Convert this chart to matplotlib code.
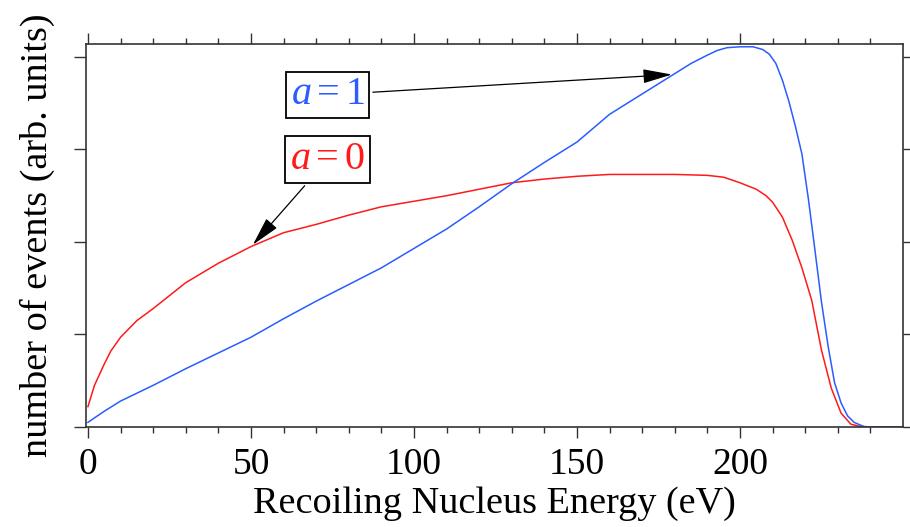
import matplotlib
matplotlib.use('Agg')
import matplotlib.pyplot as plt
import numpy as np

# energies (eV) and event counts
x_red = [0, 2, 5, 7, 10, 15, 20, 25, 30, 40, 50, 60, 70, 80, 90, 100, 110, 120, 130,
         140, 150, 160, 170, 180, 190, 195, 200, 205, 208, 210, 213, 216, 219, 222, 225,
         228, 231, 234, 237, 240, 250]
y_red = [0.22, 0.45, 0.68, 0.82, 0.97, 1.15, 1.28, 1.42, 1.56, 1.77, 1.95, 2.10, 2.19,
         2.29, 2.38, 2.44, 2.50, 2.57, 2.64, 2.68, 2.71, 2.73, 2.73, 2.73, 2.72, 2.70,
         2.64, 2.57, 2.50, 2.43, 2.27, 2.02, 1.72, 1.37, 0.83, 0.42, 0.15, 0.03, 0.005,
         0, 0]

x_blue = [0, 5, 10, 20, 30, 40, 50, 60, 70, 80, 90, 100, 110, 120, 130, 140, 150, 160,
          170, 180, 185, 190, 193, 196, 200, 204, 207, 209, 211, 213, 215, 217, 219,
          221, 223, 225, 227, 229, 231, 233, 235, 238, 240, 250]
y_blue = [0.05, 0.17, 0.28, 0.45, 0.63, 0.80, 0.97, 1.17, 1.36, 1.54, 1.72, 1.93, 2.14,
          2.38, 2.63, 2.86, 3.08, 3.38, 3.60, 3.82, 3.93, 4.02, 4.07, 4.10, 4.11, 4.11,
          4.08, 4.03, 3.93, 3.75, 3.52, 3.25, 2.95, 2.46, 1.91, 1.35, 0.88, 0.48, 0.26,
          0.12, 0.05, 0.005, 0, 0]

x_major = [0, 50, 100, 150, 200]
y_major = [0, 1, 2, 3, 4]

plt.rcParams['font.family'] = 'Liberation Serif'
plt.rcParams['mathtext.fontset'] = 'custom'
plt.rcParams['mathtext.rm'] = 'Liberation Serif'
plt.rcParams['mathtext.it'] = 'Liberation Serif:italic'

blue = '#2a5cff'
red = '#ff1a1a'
frame = '#333333'

fig = plt.figure(figsize=(9.1, 5.27), dpi=100)
ax = fig.add_axes([0.0945, 0.1898, 0.8978, 0.7267])

ax.plot(x_red, y_red, color=red, lw=1.1)
ax.plot(x_blue, y_blue, color=blue, lw=1.1)

ax.set_xlim(-0.6, 250)
ax.set_ylim(0, 4.14)

ax.set_xticks(x_major)
ax.set_xticks(np.arange(0, 250, 10), minor=True)
ax.set_yticks(y_major)
ax.set_yticklabels([])
ax.tick_params(axis='both', which='both', direction='out', color=frame,
               top=True, right=True, labelsize=27, width=1)
ax.tick_params(axis='x', which='major', length=8, pad=7)
ax.tick_params(axis='x', which='minor', length=4)
ax.tick_params(axis='y', which='major', length=9)
for s in ax.spines.values():
    s.set_color(frame)
    s.set_linewidth(1.2)

ax.set_xlabel('Recoiling Nucleus Energy (eV)', fontsize=27.5, labelpad=3)
ax.set_ylabel('number of events (arb. units)', fontsize=27.5, labelpad=10)

box = dict(boxstyle='square,pad=0.12', fc='white', ec='black', lw=1.3)
arr = dict(arrowstyle='-|>,head_length=0.9,head_width=0.22', color='black',
           lw=0.9, shrinkA=2, shrinkB=0, mutation_scale=20)
ax.annotate(r'$a = 1$', xy=(179.1, 3.81), xytext=(73.5, 3.59), color=blue,
            fontsize=29, ha='center', va='center', bbox=box, arrowprops=arr)
ax.annotate(r'$a = 0$', xy=(50.6, 1.97), xytext=(73.5, 2.89), color=red,
            fontsize=29, ha='center', va='center', bbox=box, arrowprops=arr)

fig.savefig('out.png', dpi=100)
